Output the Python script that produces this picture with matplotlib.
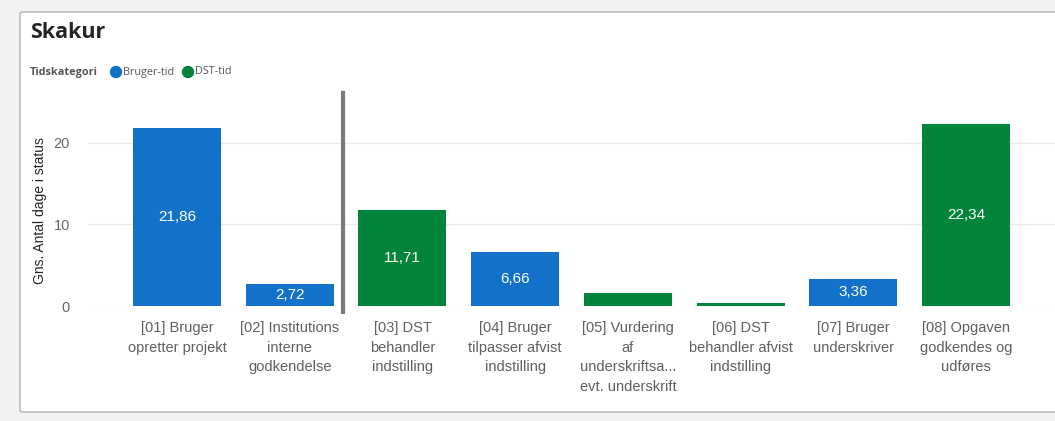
import matplotlib.pyplot as plt
from matplotlib.patches import FancyBboxPatch, Ellipse

plt.rcParams['font.family'] = ['Liberation Sans', 'DejaVu Sans']

# chart data
categories = [
    '[01] Bruger\nopretter projekt',
    '[02] Institutions\ninterne\ngodkendelse',
    '[03] DST\nbehandler\nindstilling',
    '[04] Bruger\ntilpasser afvist\nindstilling',
    '[05] Vurdering\naf\nunderskriftsa...\nevt. underskrift',
    '[06] DST\nbehandler afvist\nindstilling',
    '[07] Bruger\nunderskriver',
    '[08] Opgaven\ngodkendes og\nudføres',
]
values = [21.86, 2.72, 11.71, 6.66, 1.6, 0.35, 3.36, 22.34]
kind = ['Bruger-tid', 'Bruger-tid', 'DST-tid', 'Bruger-tid', 'DST-tid', 'DST-tid', 'Bruger-tid', 'DST-tid']
show_label = [True, True, True, True, False, False, True, True]
yticks = [0, 10, 20]

colors = {'Bruger-tid': '#1271C9', 'DST-tid': '#02853A'}

W, H = 1055, 421
fig = plt.figure(figsize=(W / 100, H / 100), dpi=100)
fig.patch.set_facecolor('#F2F2F2')

# white card
card = FancyBboxPatch((20 / W, 9 / H), 1.05, (412 - 12) / H,
                      boxstyle='round,pad=0,rounding_size=0.004',
                      transform=fig.transFigure, facecolor='white',
                      edgecolor='#BDBDBD', linewidth=1.2, zorder=-5)
fig.patches.append(card)

fig.text(30 / W, 1 - 32 / H, 'Skakur', fontsize=15.5, fontweight='bold',
         color='#252423', va='center', ha='left', family='Open Sans')

# legend
ly = 1 - 72 / H
fig.text(30 / W, ly, 'Tidskategori', fontsize=7.8, fontweight='bold', color='#555555',
         va='center', ha='left', family='Open Sans')
for name, cx in [('Bruger-tid', 116), ('DST-tid', 188)]:
    fig.patches.append(Ellipse((cx / W, ly), 11 / W, 11 / H, transform=fig.transFigure,
                               color=colors[name]))
    fig.text((cx + 7) / W, ly, name, fontsize=7.8, color='#555555', va='center', ha='left',
             family='Open Sans')

ax = fig.add_axes([88 / W, 1 - 306 / H, (1055 - 88) / W, (306 - 93) / H], zorder=2)
ax.set_facecolor('none')
x = list(range(len(values)))
ax.bar(x, values, width=0.78, color=[colors[k] for k in kind], zorder=2)
for xi, v, s in zip(x, values, show_label):
    if s:
        ax.text(xi, v / 2, f'{v:.2f}'.replace('.', ','), ha='center', va='center',
                color='white', fontsize=11, zorder=3)

ax.set_xlim(-0.79, 7.79)
ax.set_ylim(0, 26.1)
ax.set_yticks(yticks)
ax.set_yticklabels([str(t) for t in yticks], color='#666666', fontsize=10.5)
ax.yaxis.grid(True, color='#EBEBEB', linewidth=1)
ax.set_axisbelow(True)
ax.tick_params(axis='y', length=0, pad=13)
ax.tick_params(axis='x', length=0, pad=11)
ax.set_xticks(x)
ax.set_xticklabels(categories, color='#5F5F5F', fontsize=10.5, linespacing=1.5, va='top')
for sp in ax.spines.values():
    sp.set_visible(False)
ax.set_ylabel('Gns. Antal dage i status', fontsize=10, color='#252423')
ax.yaxis.set_label_coords(-0.042, 0.45)

# divider line between bars
ax.plot([1.47, 1.47], [-0.7, 26.1], color='#7A7A7A', linewidth=3, clip_on=False, zorder=4)

fig.savefig('out.png', dpi=100, facecolor=fig.get_facecolor())
